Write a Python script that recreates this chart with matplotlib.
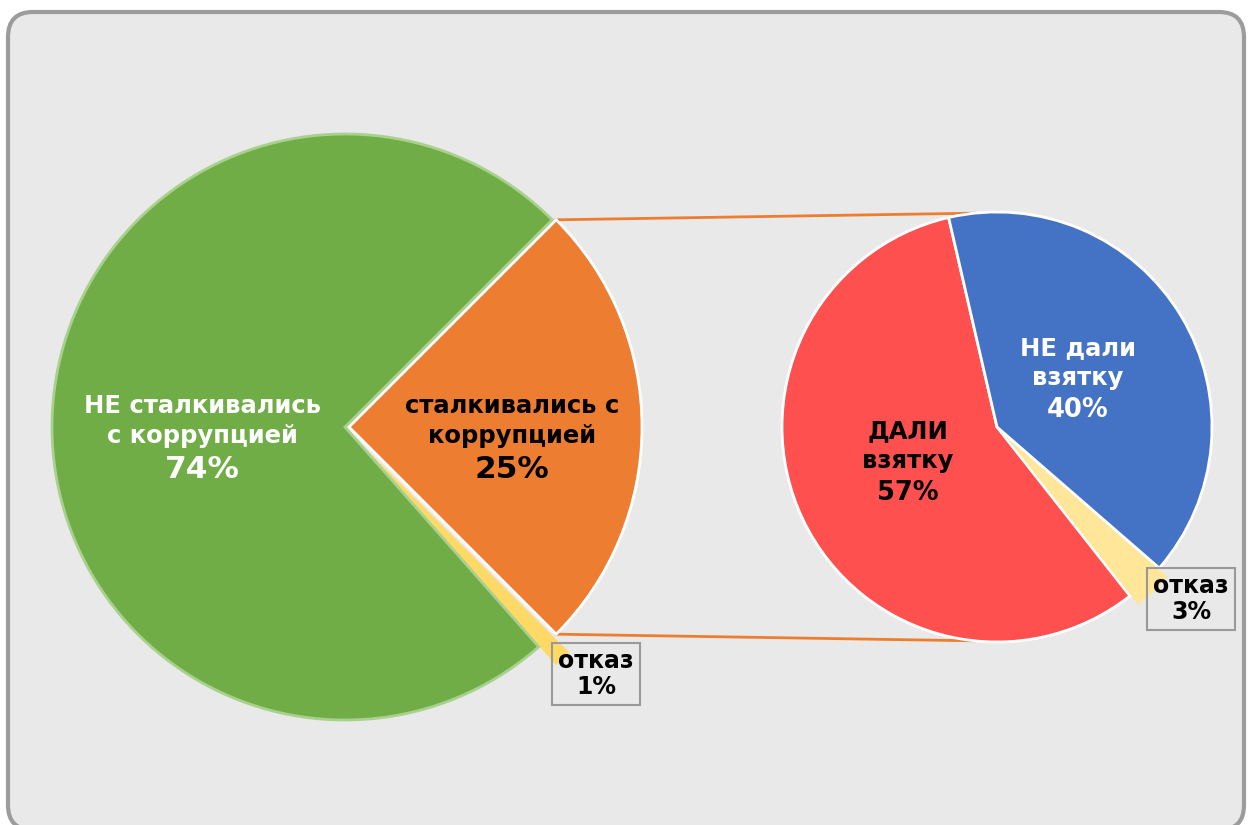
import numpy as np
import matplotlib
matplotlib.use("Agg")
import matplotlib.pyplot as plt
from matplotlib.patches import FancyBboxPatch

plt.rcParams["font.family"] = ["DejaVu Sans"]

# левая диаграмма: все опрошенные
main_labels = ["отказ", "сталкивались с\nкоррупцией", "НЕ сталкивались\nс коррупцией"]
main_values = [1, 25, 74]
main_colors = ["#FFD966", "#ED7D31", "#70AD47"]

# правая диаграмма: те, кто сталкивался
sub_labels = ["ДАЛИ\nвзятку", "отказ", "НЕ дали\nвзятку"]
sub_values = [57, 3, 40]
sub_colors = ["#FF5050", "#FFE699", "#4472C4"]

W, H = 1248, 825
fig = plt.figure(figsize=(W / 100, H / 100), dpi=100)
fig.patch.set_facecolor("white")
ax = fig.add_axes([0, 0, 1, 1])

# фон-рамка
bg = FancyBboxPatch((8, H - 830), 1236, 818,
                    boxstyle="round,pad=0,rounding_size=25",
                    fc="#e9e9e9", ec="#9c9c9c", lw=3, zorder=0)
ax.add_patch(bg)

# левый круг
c1 = (345, H - 427)
r1 = 293
start1 = 45 - (main_values[0] + main_values[1]) * 3.6
w1, _ = ax.pie(main_values, colors=main_colors, center=c1, radius=r1,
               startangle=start1, counterclock=True, explode=[25, 4, 0],
               wedgeprops=dict(edgecolor="white", linewidth=2))
w1[2].set_edgecolor("#A9D18E")
w1[0].set_edgecolor("none")

# правый круг
c2 = (997, H - 427)
r2 = 215
w2, _ = ax.pie(sub_values, colors=sub_colors, center=c2, radius=r2,
               startangle=103, counterclock=True, explode=[0, 12, 0],
               wedgeprops=dict(edgecolor="white", linewidth=2))
w2[1].set_edgecolor("none")

# соединительные линии
ow = w1[1]
for th, th2 in [(ow.theta2, 96), (ow.theta1, 264)]:
    x0 = ow.center[0] + ow.r * np.cos(np.radians(th))
    y0 = ow.center[1] + ow.r * np.sin(np.radians(th))
    x1 = c2[0] + r2 * np.cos(np.radians(th2))
    y1 = c2[1] + r2 * np.sin(np.radians(th2))
    ax.plot([x0, x1], [y0, y1], color="#ED7D31", lw=2, zorder=0.5)

# подписи
lab = dict(ha="center", va="center", fontweight="bold", linespacing=1.35)
ax.text(202, H - 421, main_labels[2], color="white", fontsize=17.5, **lab)
ax.text(202, H - 470, f"{main_values[2]}%", color="white", fontsize=22.5, **lab)
ax.text(512, H - 421, main_labels[1], color="black", fontsize=17.5, **lab)
ax.text(512, H - 470, f"{main_values[1]}%", color="black", fontsize=22.5, **lab)

ax.text(908, H - 446, sub_labels[0], color="black", fontsize=17.5, **lab)
ax.text(908, H - 493, f"{sub_values[0]}%", color="black", fontsize=18.5, **lab)
ax.text(1078, H - 363, sub_labels[2], color="white", fontsize=17.5, **lab)
ax.text(1078, H - 410, f"{sub_values[2]}%", color="white", fontsize=18.5, **lab)

box = dict(boxstyle="square,pad=0.25", fc="none", ec="#999999", lw=1.5)
ax.text(596, H - 674, f"{main_labels[0]}\n{main_values[0]}%", fontsize=17,
        bbox=box, ha="center", va="center", fontweight="bold", linespacing=1.15)
ax.text(1191, H - 599, f"{sub_labels[1]}\n{sub_values[1]}%", fontsize=17,
        bbox=box, ha="center", va="center", fontweight="bold", linespacing=1.15)

ax.set_xlim(0, W)
ax.set_ylim(0, H)
ax.set_aspect("equal")
ax.axis("off")

plt.savefig("out.png", dpi=100)
